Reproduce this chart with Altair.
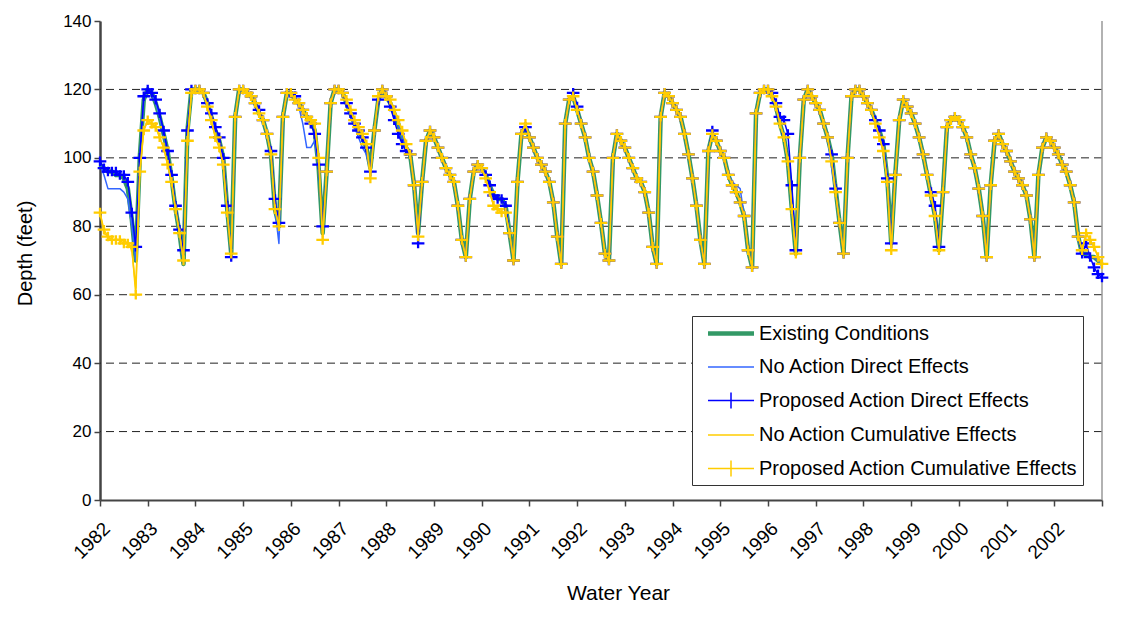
import altair as alt
import pandas as pd

FONT = "Liberation Sans"

SERIES = [
    "Existing Conditions",
    "No Action Direct Effects",
    "Proposed Action Direct Effects",
    "No Action Cumulative Effects",
    "Proposed Action Cumulative Effects",
]
COLORS = ["#339966", "#3366FF", "#0000FF", "#FFCC00", "#FFCC00"]
LINE_WIDTHS = [4.5, 1.5, 1.5, 1.5, 1.5]
HAS_MARKERS = [False, False, True, False, True]

YEARS = list(range(1982, 2004))
GRID_VALUES = [20, 40, 60, 80, 100, 120]
Y_TICKS = [0, 20, 40, 60, 80, 100, 120, 140]

# monthly values, Oct 1981 (plotted at 1982.0) through the end of 2002 water year
EXISTING = [
    98, 97, 96, 96, 95, 95, 94, 91, 82, 70, 100, 117,
    120, 119, 116, 112, 107, 102, 94, 85, 78, 69, 108, 120,
    120, 120, 119, 116, 112, 108, 105, 100, 85, 72, 112, 120,
    120, 119, 118, 116, 113, 111, 107, 101, 85, 80, 112, 119,
    119, 117, 116, 114, 112, 111, 108, 97, 78, 96, 116, 120,
    120, 119, 116, 113, 110, 108, 106, 103, 97, 108, 117, 120,
    118, 116, 113, 110, 106, 103, 101, 92, 78, 93, 105, 108,
    106, 103, 100, 97, 95, 93, 86, 76, 71, 88, 96, 98,
    97, 95, 92, 89, 88, 88, 86, 78, 70, 93, 107, 109,
    106, 103, 100, 98, 96, 93, 87, 77, 69, 110, 117, 118,
    114, 110, 106, 100, 96, 89, 81, 72, 70, 100, 107, 105,
    103, 100, 97, 94, 93, 90, 84, 74, 69, 112, 119, 118,
    116, 114, 112, 107, 101, 94, 86, 76, 69, 102, 107, 105,
    102, 100, 95, 92, 90, 87, 83, 73, 68, 113, 119, 120,
    120, 118, 115, 110, 106, 99, 85, 72, 100, 117, 120, 118,
    116, 114, 110, 106, 101, 91, 81, 72, 100, 118, 120, 120,
    118, 116, 114, 111, 108, 104, 94, 75, 95, 111, 117, 115,
    113, 110, 106, 101, 95, 89, 83, 73, 90, 109, 111, 112,
    111, 109, 106, 101, 97, 91, 83, 71, 92, 105, 107, 104,
    102, 99, 96, 94, 92, 89, 82, 71, 95, 103, 106, 105,
    103, 101, 98, 96, 92, 87, 77, 72, 72, 71, 71, 70,
    69,
]

NO_ACTION_DIRECT = [
    98, 95, 91, 91, 91, 91, 90, 88, 80, 70, 100, 117,
    120, 119, 116, 112, 107, 102, 94, 85, 78, 69, 108, 120,
    120, 120, 119, 116, 112, 107, 104, 99, 85, 72, 112, 120,
    120, 119, 118, 116, 113, 111, 107, 101, 85, 75, 112, 119,
    119, 117, 115, 110, 103, 103, 105, 97, 78, 96, 116, 120,
    120, 119, 116, 112, 109, 106, 103, 101, 96, 108, 117, 120,
    118, 116, 113, 110, 106, 103, 101, 92, 78, 93, 105, 108,
    106, 103, 100, 97, 95, 93, 86, 76, 71, 88, 96, 98,
    97, 95, 92, 89, 88, 88, 86, 78, 70, 93, 107, 109,
    106, 103, 100, 98, 96, 93, 87, 77, 69, 110, 117, 118,
    114, 110, 106, 100, 96, 89, 81, 72, 70, 100, 107, 105,
    103, 100, 97, 94, 93, 90, 84, 74, 69, 112, 119, 118,
    116, 114, 112, 107, 101, 94, 86, 76, 69, 102, 107, 105,
    102, 100, 95, 93, 92, 91, 83, 73, 68, 113, 119, 120,
    120, 118, 115, 110, 106, 99, 85, 72, 100, 117, 120, 118,
    116, 114, 110, 106, 97, 90, 81, 72, 100, 118, 120, 120,
    118, 116, 114, 111, 108, 104, 94, 75, 95, 111, 117, 115,
    113, 110, 106, 101, 95, 89, 83, 73, 90, 109, 111, 112,
    111, 109, 106, 101, 97, 91, 83, 71, 92, 105, 107, 104,
    102, 99, 96, 94, 92, 89, 82, 71, 95, 103, 106, 105,
    103, 101, 98, 96, 92, 87, 77, 72, 72, 71, 71, 70,
    69,
]

PROPOSED_DIRECT = [
    99, 97, 96, 96, 96, 95, 95, 93, 84, 74, 100, 118,
    120, 119, 117, 113, 108, 102, 95, 86, 79, 73, 108, 120,
    120, 120, 119, 116, 113, 109, 106, 100, 86, 71, 112, 120,
    120, 119, 118, 116, 114, 111, 107, 102, 88, 81, 112, 119,
    119, 118, 116, 114, 112, 110, 107, 98, 80, 96, 116, 120,
    120, 119, 116, 113, 110, 108, 106, 103, 96, 108, 117, 120,
    118, 115, 111, 107, 104, 102, 101, 92, 75, 93, 105, 108,
    106, 103, 100, 97, 95, 93, 86, 76, 71, 88, 96, 98,
    97, 95, 92, 89, 88, 88, 86, 78, 70, 93, 107, 109,
    106, 103, 100, 98, 96, 93, 87, 77, 69, 110, 117, 119,
    115, 110, 106, 100, 96, 89, 81, 72, 70, 100, 107, 105,
    103, 100, 97, 94, 93, 90, 84, 74, 69, 112, 119, 118,
    116, 114, 112, 107, 101, 94, 86, 76, 69, 102, 108, 105,
    102, 100, 95, 92, 90, 87, 83, 73, 68, 113, 119, 120,
    120, 119, 116, 112, 111, 107, 92, 73, 100, 117, 120, 118,
    116, 114, 110, 106, 101, 91, 81, 72, 100, 118, 120, 120,
    118, 116, 114, 111, 108, 104, 94, 75, 95, 111, 117, 115,
    113, 110, 106, 101, 95, 90, 86, 74, 90, 109, 111, 112,
    111, 109, 106, 101, 97, 91, 83, 71, 92, 105, 107, 104,
    102, 99, 96, 94, 92, 89, 82, 71, 95, 103, 106, 105,
    103, 101, 98, 96, 92, 87, 77, 72, 75, 71, 68, 66,
    65,
]

NO_ACTION_CUMULATIVE = [
    84, 78, 77, 76, 76, 76, 76, 75, 73, 62, 95, 108,
    111, 110, 109, 106, 103, 98, 93, 85, 78, 70, 105, 119,
    120, 120, 119, 115, 111, 106, 103, 98, 84, 72, 112, 120,
    120, 119, 118, 116, 113, 111, 107, 101, 85, 80, 112, 119,
    119, 117, 116, 114, 112, 111, 110, 100, 77, 96, 116, 120,
    120, 119, 117, 114, 111, 109, 107, 104, 95, 108, 118, 120,
    118, 117, 114, 111, 108, 104, 101, 92, 78, 93, 105, 108,
    106, 103, 100, 97, 95, 93, 86, 76, 71, 88, 96, 98,
    97, 94, 90, 86, 85, 84, 84, 78, 70, 93, 107, 110,
    106, 103, 100, 98, 96, 93, 87, 77, 69, 110, 117, 118,
    114, 110, 106, 100, 96, 89, 81, 72, 70, 100, 107, 105,
    103, 100, 97, 94, 93, 90, 84, 74, 69, 112, 119, 118,
    116, 114, 112, 107, 101, 94, 86, 76, 69, 102, 107, 105,
    102, 100, 95, 92, 90, 87, 83, 73, 68, 113, 119, 120,
    120, 118, 115, 110, 106, 99, 85, 72, 100, 117, 120, 118,
    116, 114, 110, 106, 99, 90, 81, 72, 100, 118, 120, 120,
    118, 116, 114, 110, 106, 102, 93, 73, 95, 111, 117, 115,
    113, 110, 106, 101, 95, 89, 83, 73, 90, 109, 111, 112,
    111, 109, 106, 101, 97, 91, 83, 71, 92, 105, 107, 104,
    102, 99, 96, 94, 92, 89, 82, 71, 95, 103, 106, 105,
    103, 101, 98, 96, 92, 87, 77, 73, 78, 76, 74, 71,
    69,
]

PROPOSED_CUMULATIVE = [
    84, 79, 77, 76, 76, 76, 75, 75, 74, 60, 96, 108,
    111, 110, 109, 106, 103, 98, 93, 85, 78, 70, 105, 119,
    120, 120, 119, 115, 111, 106, 103, 98, 84, 72, 112, 120,
    120, 119, 118, 116, 113, 111, 107, 101, 85, 80, 112, 119,
    119, 117, 116, 114, 112, 111, 110, 100, 76, 96, 116, 120,
    120, 119, 117, 114, 111, 109, 107, 104, 94, 108, 118, 120,
    118, 117, 114, 111, 108, 104, 101, 92, 77, 93, 105, 108,
    106, 103, 100, 97, 95, 93, 86, 76, 71, 88, 96, 98,
    97, 94, 90, 86, 85, 84, 84, 78, 70, 93, 107, 110,
    106, 103, 100, 98, 96, 93, 87, 77, 69, 110, 117, 118,
    114, 110, 106, 100, 96, 89, 81, 72, 70, 100, 107, 105,
    103, 100, 97, 94, 93, 90, 84, 74, 69, 112, 119, 118,
    116, 114, 112, 107, 101, 94, 86, 76, 69, 102, 107, 105,
    102, 100, 95, 92, 90, 87, 83, 73, 68, 113, 119, 120,
    120, 118, 115, 110, 106, 99, 85, 72, 100, 117, 120, 118,
    116, 114, 110, 106, 99, 90, 81, 72, 100, 118, 120, 120,
    118, 116, 114, 110, 106, 102, 93, 73, 95, 111, 117, 115,
    113, 110, 106, 101, 95, 89, 83, 73, 90, 109, 111, 112,
    111, 109, 106, 101, 97, 91, 83, 71, 92, 105, 107, 104,
    102, 99, 96, 94, 92, 89, 82, 71, 95, 103, 106, 105,
    103, 101, 98, 96, 92, 87, 77, 73, 78, 76, 74, 71,
    69,
]

VALUES = [EXISTING, NO_ACTION_DIRECT, PROPOSED_DIRECT, NO_ACTION_CUMULATIVE, PROPOSED_CUMULATIVE]
MONTHS = list(range(len(EXISTING)))

PLUS = "M-1,0L1,0M0,-0.75L0,0.75"
# legend symbols: unit = 11.5 px, line runs from 10 px to 56 px inside each entry
LEG_SHAPES = [
    "M-0.13,-0.12L3.87,-0.12M-0.13,0L3.87,0M-0.13,0.12L3.87,0.12",
    "M-0.13,0L3.87,0",
    "M-0.13,0L3.87,0M1.87,-0.7L1.87,0.7",
    "M-0.13,0L3.87,0",
    "M-0.13,0L3.87,0M1.87,-0.7L1.87,0.7",
]

x_scale = alt.Scale(domain=[1982, 2003], nice=False, zero=False)
y_scale = alt.Scale(domain=[0, 140], nice=False)

x_axis = alt.Axis(
    values=YEARS, format="d", labelAngle=-45, labelOverlap=False, labelFlush=False,
    labelExpr="datum.value >= 2003 ? '' : datum.label",
    grid=False, domainColor="#444", domainWidth=2, tickColor="#444", tickSize=6, tickWidth=1.5,
    labelFont=FONT, labelFontSize=19, labelColor="black", labelPadding=13,
    title="Water Year", titleFont=FONT, titleFontSize=21, titleFontWeight="normal",
    titleColor="black", titleX=518, titleY=93, titleBaseline="middle",
)
y_axis = alt.Axis(
    values=Y_TICKS, grid=False, domainColor="#444", domainWidth=2.5, tickColor="#444",
    tickSize=6, tickWidth=1.5, labelFont=FONT, labelFontSize=17, labelColor="black",
    labelPadding=3, title="Depth (feet)", titleFont=FONT, titleFontSize=20,
    titleFontWeight="normal", titleColor="black", titleX=-75, titleY=232,
    titleBaseline="middle",
)

X = alt.X("t:Q", scale=x_scale, axis=x_axis)
Y = alt.Y("depth:Q", scale=y_scale, axis=y_axis)

frames = []
for name, vals in zip(SERIES, VALUES):
    frames.append(pd.DataFrame({
        "series": name,
        "t": [1982 + m / 12 for m in MONTHS],
        "depth": vals,
    }))

layers = []
grid_df = pd.DataFrame({"depth": GRID_VALUES})
layers.append(
    alt.Chart(grid_df).mark_rule(color="#222", strokeDash=[8, 5], strokeWidth=1).encode(y=Y)
)
edge_df = pd.DataFrame({"t": [YEARS[-1]]})
layers.append(alt.Chart(edge_df).mark_rule(color="#999", strokeWidth=1.5).encode(x=X))

for name, df, col, w, mk in zip(SERIES, frames, COLORS, LINE_WIDTHS, HAS_MARKERS):
    layers.append(
        alt.Chart(df).mark_line(color=col, strokeWidth=w, strokeJoin="round").encode(x=X, y=Y)
    )
    if mk:
        layers.append(
            alt.Chart(df).mark_point(
                shape=PLUS, size=160, filled=False, strokeWidth=2.3, color=col, opacity=1
            ).encode(x=X, y=Y)
        )

legend_df = pd.DataFrame({"series": SERIES, "t": [None] * 5, "depth": [None] * 5})
legend = alt.Legend(
    title=None, orient="none", legendX=592, legendY=295,
    strokeColor="#333", fillColor="white", padding=5,
    labelFont=FONT, labelFontSize=20, labelColor="black", labelLimit=600,
    symbolSize=529, symbolStrokeWidth=1.5, rowPadding=10.5, labelOffset=37,
)
layers.append(
    alt.Chart(legend_df).mark_point(filled=False, opacity=1, strokeWidth=1.5).encode(
        x=X, y=Y,
        color=alt.Color("series:N", scale=alt.Scale(domain=SERIES, range=COLORS), legend=legend),
        shape=alt.Shape("series:N", scale=alt.Scale(domain=SERIES, range=LEG_SHAPES)),
    )
)

chart = (
    alt.layer(*layers)
    .properties(
        width=1002, height=479,
        autosize=alt.AutoSizeParams(type="none"),
        padding={"left": 92, "top": 13, "right": 20, "bottom": 115},
    )
    .configure_view(stroke=None)
)

chart.save("out.html", embed_options={"renderer": "svg", "actions": False})
